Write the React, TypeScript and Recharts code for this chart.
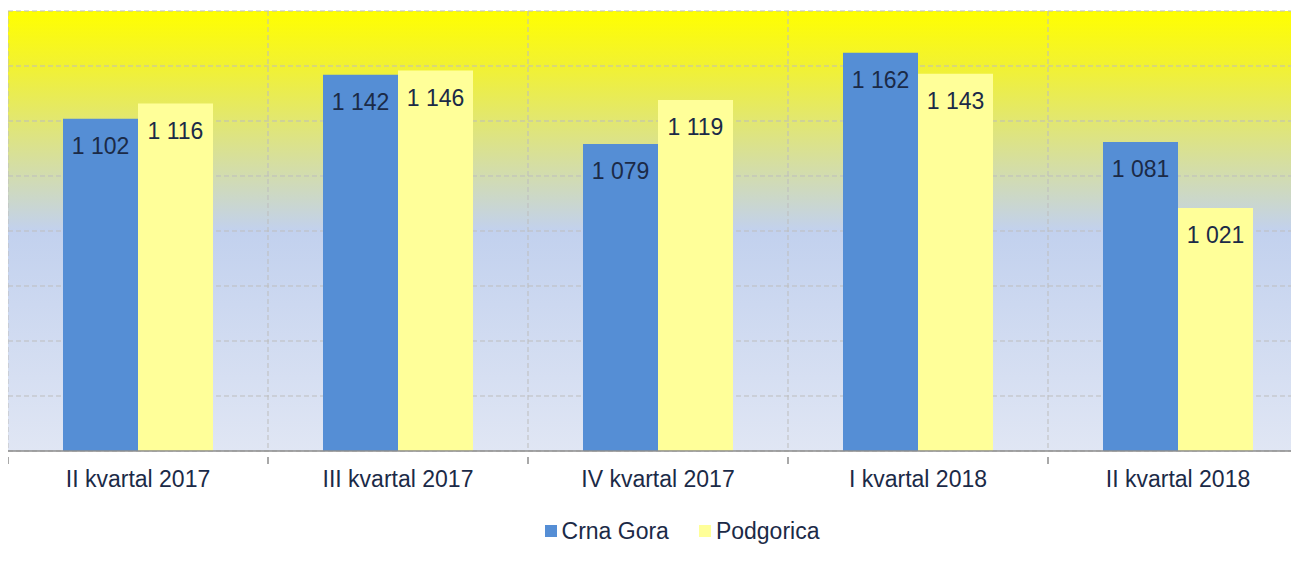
import React from 'react';
import { BarChart, Bar, XAxis, YAxis, CartesianGrid, Legend, LabelList } from 'recharts';

const categories = ['II kvartal 2017', 'III kvartal 2017', 'IV kvartal 2017', 'I kvartal 2018', 'II kvartal 2018'];
const crnaGora = [1102, 1142, 1079, 1162, 1081];
const podgorica = [1116, 1146, 1119, 1143, 1021];
const yTicks = [800, 850, 900, 950, 1000, 1050, 1100, 1150, 1200];
const boundaryTicks = [0, 1, 2, 3, 4, 5];
const seriesNames = ['Crna Gora', 'Podgorica'];
const seriesColors = ['#558ED5', '#FFFF99'];

const data = categories.map((c, i) => ({ name: c, crnaGora: crnaGora[i], podgorica: podgorica[i] }));

const TEXT = '#1B2A47';
const FONT = '"Liberation Sans", Arial, sans-serif';
const AXIS = '#8C8C8C';

const fmt = (v: any) => {
  const n = Number(v);
  const th = Math.floor(n / 1000);
  const rest = String(n % 1000).padStart(3, '0');
  return th > 0 ? `${th} ${rest}` : String(n);
};

const LegendContent = () => (
  <div style={{ display: 'flex', justifyContent: 'center', alignItems: 'center', height: 40, paddingLeft: 48, fontFamily: FONT, fontSize: 23, color: TEXT }}>
    {seriesNames.map((s, i) => (
      <div key={s} style={{ display: 'flex', alignItems: 'center', marginRight: i === 0 ? 30 : 0 }}>
        <div style={{ width: 12, height: 12, background: seriesColors[i], marginRight: 5 }} />
        <span>{s}</span>
      </div>
    ))}
  </div>
);

const CategoryTick = (props: any) => {
  const { x, y, payload, index, visibleTicksCount } = props;
  const half = payload && typeof payload.offset === 'number' && payload.offset > 0 ? payload.offset : 130;
  return (
    <g>
      <line x1={x - half} x2={x - half} y1={y - 14} y2={y - 7} stroke={AXIS} strokeWidth={1.5} />
      {index === visibleTicksCount - 1 && (
        <line x1={x + half} x2={x + half} y1={y - 14} y2={y - 7} stroke={AXIS} strokeWidth={1.5} />
      )}
      <text x={x} y={y} dy="0.71em" textAnchor="middle" fill={TEXT} fontSize={23} fontFamily={FONT}>
        {payload.value}
      </text>
    </g>
  );
};

export default function App() {
  return (
    <div style={{ width: 1291, overflow: 'hidden' }}>
      <BarChart
        width={1300}
        height={543}
        data={data}
        margin={{ top: 3, right: 0, bottom: 0, left: 0 }}
        barCategoryGap={55}
        barGap={0}
        style={{ fontFamily: FONT }}
      >
        <defs>
          <linearGradient id="bgGrad" x1="0" y1="0" x2="0" y2="1">
            <stop offset="0%" stopColor="#FFFF00" />
            <stop offset="12%" stopColor="#F2F230" />
            <stop offset="50%" stopColor="#C2D1EE" />
            <stop offset="100%" stopColor="#E0E6F4" />
          </linearGradient>
        </defs>
        <CartesianGrid
          fill="url(#bgGrad)"
          fillOpacity={1}
          stroke="#BDBDBD"
          strokeDasharray="5 3"
          verticalCoordinatesGenerator={({ offset }: any) =>
            boundaryTicks.map((t) => offset.left + (t * offset.width) / categories.length)
          }
        />
        <XAxis
          dataKey="name"
          height={60}
          tickLine={false}
          tickMargin={14}
          axisLine={{ stroke: AXIS, strokeWidth: 1.5 }}
          tick={<CategoryTick />}
          interval={0}
        />
        <YAxis hide domain={[800, 1200]} ticks={yTicks} allowDataOverflow />
        <Legend verticalAlign="bottom" height={40} content={<LegendContent />} />
        <Bar dataKey="crnaGora" name={seriesNames[0]} fill={seriesColors[0]} isAnimationActive={false}>
          <LabelList dataKey="crnaGora" position="insideTop" offset={19} formatter={fmt} fill={TEXT} fontSize={23} fontFamily={FONT} />
        </Bar>
        <Bar dataKey="podgorica" name={seriesNames[1]} fill={seriesColors[1]} isAnimationActive={false}>
          <LabelList dataKey="podgorica" position="insideTop" offset={19} formatter={fmt} fill={TEXT} fontSize={23} fontFamily={FONT} />
        </Bar>
      </BarChart>
    </div>
  );
}
